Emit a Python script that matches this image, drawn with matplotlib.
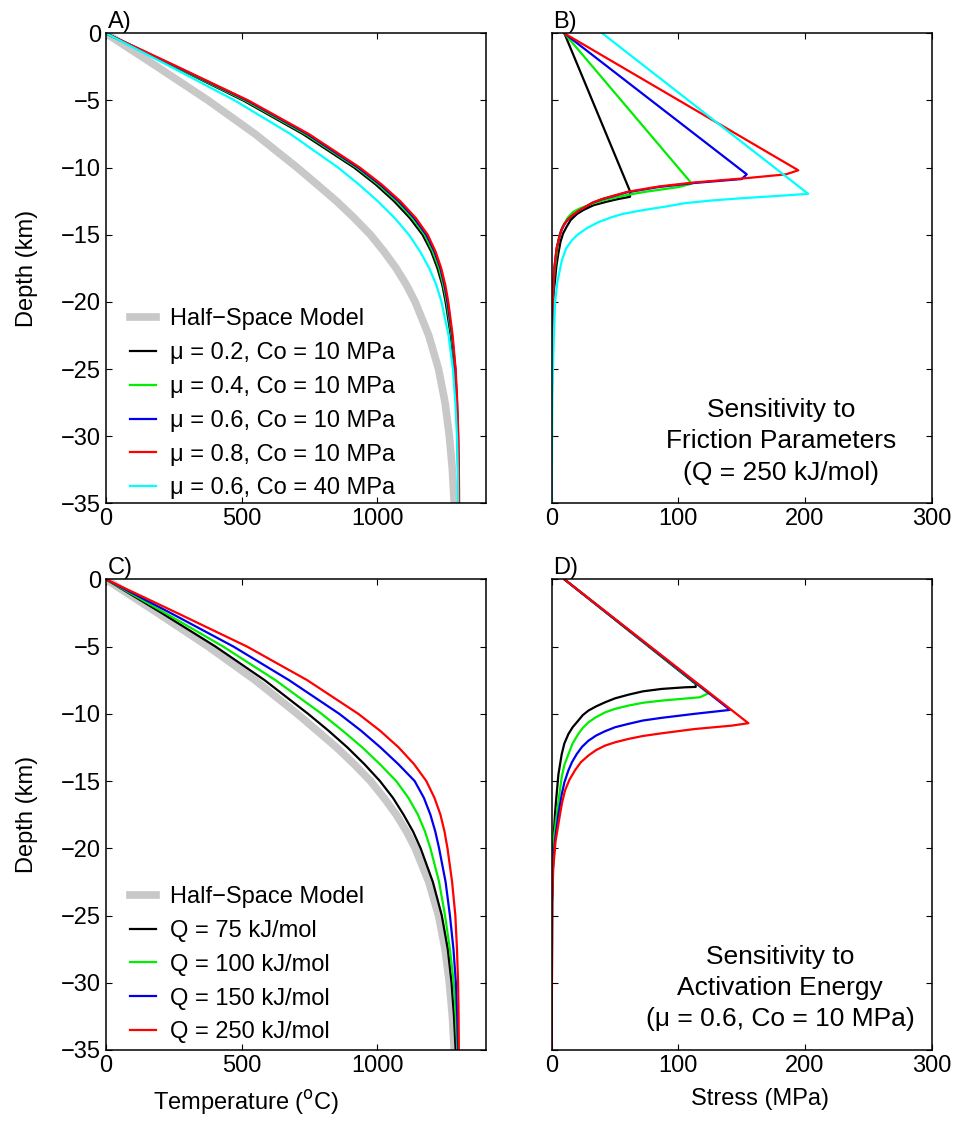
import numpy as np
import matplotlib.pyplot as plt

plt.rcParams['font.family'] = ['Liberation Sans', 'DejaVu Sans']
plt.rcParams['font.size'] = 17

# ---------------- data ----------------
# temperature panels: depth grid (km, positive down) and temperatures (C)
depth_T = [0, 2.5, 5, 7.5, 10, 11.25, 12.5, 13.75, 15, 16.25, 17.5, 18.75, 20, 22.5, 25, 27.5, 30, 32.5, 35]

T_halfspace = [0, 190, 377, 550, 705, 778, 850, 915, 975, 1025, 1070, 1108, 1140, 1190, 1226, 1250, 1266, 1277, 1284]

# panel A: friction sensitivity (Q = 250 kJ/mol)
T_mu02_co10 = [0, 255, 506, 726, 915, 994, 1062, 1120, 1167, 1199, 1222, 1240, 1252, 1271, 1285, 1292, 1296, 1298, 1299]
T_mu04_co10 = [0, 258, 513, 735, 924, 1003, 1072, 1129, 1175, 1205, 1228, 1244, 1256, 1274, 1287, 1293, 1297, 1299, 1300]
T_mu06_co10 = [0, 262, 520, 742, 930, 1010, 1079, 1136, 1181, 1211, 1233, 1248, 1259, 1276, 1288, 1294, 1298, 1300, 1301]
T_mu08_co10 = [0, 265, 525, 748, 936, 1016, 1085, 1142, 1186, 1215, 1236, 1251, 1262, 1278, 1289, 1295, 1299, 1301, 1302]
T_mu06_co40 = [0, 240, 475, 680, 856, 932, 1002, 1064, 1117, 1158, 1192, 1218, 1237, 1263, 1279, 1288, 1294, 1297, 1298]

# panel C: activation energy sensitivity (mu = 0.6, Co = 10 MPa)
T_q75 = [0, 205, 404, 585, 745, 820, 890, 953, 1010, 1058, 1097, 1132, 1160, 1205, 1238, 1260, 1274, 1283, 1289]
T_q100 = [0, 218, 432, 625, 795, 872, 945, 1010, 1070, 1115, 1150, 1176, 1196, 1228, 1250, 1268, 1282, 1290, 1295]
T_q150 = [0, 238, 470, 675, 860, 940, 1012, 1078, 1138, 1172, 1196, 1214, 1228, 1252, 1268, 1281, 1290, 1295, 1298]
T_q250 = [0, 262, 520, 742, 930, 1010, 1079, 1136, 1181, 1211, 1233, 1248, 1259, 1276, 1288, 1294, 1298, 1300, 1301]

# panel B: stress profiles (MPa) and depths (km)
S_b_mu02 = [10, 62, 61.8, 52, 43.4, 33, 25, 20, 15, 11.8, 9, 7, 5.2, 3.6, 2.6, 1.6, 1.0, 0.4, 0.1, 0]
d_b_mu02 = [0, 11.8, 12.17, 12.35, 12.54, 12.8, 13.16, 13.45, 13.9, 14.4, 14.9, 15.5, 16.4, 17.4, 18.4, 19.2, 20, 22, 25, 35]
S_b_mu04 = [10, 108.4, 110.5, 100, 74, 59, 42, 30, 22, 17, 12.5, 9.2, 7, 5.5, 3.9, 2.0, 1.0, 0.5, 0.2, 0]
d_b_mu04 = [0, 10.95, 11.2, 11.45, 11.8, 12.05, 12.4, 12.75, 13.05, 13.3, 13.75, 14.3, 14.8, 15.3, 16.4, 17.9, 19.5, 21.5, 24, 35]
S_b_mu06 = [10, 154, 150, 112, 84, 59, 40, 32, 26.5, 21, 16.5, 12.5, 9.8, 7.8, 6.3, 3.8, 2.0, 1.2, 0.6, 0.2, 0]
d_b_mu06 = [0, 10.5, 10.85, 11.15, 11.45, 11.85, 12.35, 12.62, 12.95, 13.25, 13.55, 13.9, 14.25, 14.6, 15.05, 16.05, 17.6, 19.1, 21, 24, 35]
S_b_mu08 = [10, 194.7, 185, 152, 113, 85, 60, 41, 33, 27, 21.5, 17, 13, 10, 8, 6.5, 3.9, 2.0, 1.2, 0.6, 0.2, 0]
d_b_mu08 = [0, 10.2, 10.5, 10.8, 11.1, 11.4, 11.8, 12.3, 12.58, 12.9, 13.2, 13.5, 13.85, 14.2, 14.6, 15.0, 16.0, 17.5, 19, 21, 24, 35]
S_b_co40 = [40, 202.5, 180, 150, 126, 105, 90, 70, 56, 47, 36, 28, 21, 16, 11.5, 8, 4.5, 2.6, 1.3, 0.5, 0]
d_b_co40 = [0, 11.95, 12.1, 12.28, 12.45, 12.65, 12.9, 13.2, 13.45, 13.7, 14.1, 14.5, 14.95, 15.4, 16.0, 16.9, 18.5, 20.1, 23.8, 27, 35]

# panel D
S_d_q75 = [10, 113.7, 113.7, 105, 86.8, 72, 60.5, 50, 42, 35, 29, 24.5, 21, 16.5, 13.2, 10, 7.9, 5.3, 3.4, 2.6, 1.0, 0.3, 0]
d_d_q75 = [0, 7.78, 8.0, 8.03, 8.15, 8.33, 8.58, 8.85, 9.15, 9.45, 9.76, 10.1, 10.5, 11.0, 11.5, 12.2, 13, 14.5, 16.5, 17.45, 20, 24, 35]
S_d_q100 = [10, 123.7, 117, 86.8, 72, 60.5, 50, 42, 35, 29, 24.5, 21, 16.5, 13.2, 10, 7.9, 4.7, 2.0, 0.8, 0.2, 0]
d_d_q100 = [0, 8.48, 8.77, 9.02, 9.18, 9.39, 9.63, 9.9, 10.25, 10.63, 11.05, 11.5, 12.2, 13.0, 13.8, 14.7, 16.95, 19, 21, 24, 35]
S_d_q150 = [10, 140.8, 113, 86.8, 72, 60.5, 50, 42, 35, 29, 24, 19.7, 16, 13.2, 10, 7.9, 5.3, 2.5, 1.0, 0.3, 0]
d_d_q150 = [0, 9.71, 10.0, 10.3, 10.5, 10.75, 11.0, 11.3, 11.62, 12.0, 12.45, 13.0, 13.6, 14.2, 15.1, 16.0, 17.45, 19.5, 21.5, 24, 35]
S_d_q250 = [10, 155.3, 142, 113, 86.8, 72, 60.5, 50, 42, 35, 29, 23, 18.4, 14, 10.5, 8.2, 6.6, 3.0, 1.2, 0.4, 0]
d_d_q250 = [0, 10.7, 10.88, 11.13, 11.45, 11.65, 11.87, 12.12, 12.37, 12.7, 13.1, 13.6, 14.2, 14.9, 15.7, 16.6, 17.45, 19.5, 21.5, 24, 35]

labels_A = ['μ = 0.2, Co = 10 MPa', 'μ = 0.4, Co = 10 MPa', 'μ = 0.6, Co = 10 MPa',
            'μ = 0.8, Co = 10 MPa', 'μ = 0.6, Co = 40 MPa']
labels_C = ['Q = 75 kJ/mol', 'Q = 100 kJ/mol', 'Q = 150 kJ/mol', 'Q = 250 kJ/mol']
colors_A = ['k', '#00ee00', '#0000ee', 'r', 'cyan']
colors_C = ['k', '#00ee00', '#0000ee', 'r']
gray = '#c8c8c8'

# ---------------- figure ----------------
fig = plt.figure(figsize=(9.59, 11.26), dpi=100)
axA = fig.add_axes([0.1105, 0.553, 0.396, 0.4174])
axB = fig.add_axes([0.5753, 0.553, 0.3962, 0.4174])
axC = fig.add_axes([0.1105, 0.0675, 0.396, 0.418])
axD = fig.add_axes([0.5753, 0.0675, 0.3962, 0.418])

dT = -np.array(depth_T)

# A
axA.plot(T_halfspace, dT, color=gray, lw=5.5, label='Half\u2212Space Model')
for T, c, lab in zip([T_mu02_co10, T_mu04_co10, T_mu06_co10, T_mu08_co10, T_mu06_co40], colors_A, labels_A):
    axA.plot(T, dT, color=c, lw=1.6, label=lab)

# C
axC.plot(T_halfspace, dT, color=gray, lw=5.5, label='Half\u2212Space Model')
for T, c, lab in zip([T_q75, T_q100, T_q150, T_q250], colors_C, labels_C):
    axC.plot(T, dT, color=c, lw=1.6, label=lab)

# B
for S, d, c in zip([S_b_mu02, S_b_mu04, S_b_mu06, S_b_mu08, S_b_co40],
                   [d_b_mu02, d_b_mu04, d_b_mu06, d_b_mu08, d_b_co40], colors_A):
    axB.plot(S, -np.array(d), color=c, lw=1.6)

# D
for S, d, c in zip([S_d_q75, S_d_q100, S_d_q150, S_d_q250],
                   [d_d_q75, d_d_q100, d_d_q150, d_d_q250], colors_C):
    axD.plot(S, -np.array(d), color=c, lw=1.6)

for ax in [axA, axB, axC, axD]:
    ax.set_ylim(-35, 0)
    ax.set_yticks(np.arange(-35, 1, 5))
    ax.tick_params(direction='in', top=True, right=True, length=4, width=0.8, labelsize=17)
    for sp in ax.spines.values():
        sp.set_linewidth(1.1)

for ax in [axA, axC]:
    ax.set_xlim(0, 1400)
    ax.set_xticks([0, 500, 1000])
    ax.set_ylabel('Depth (km)', fontsize=17)
    ax.yaxis.set_label_coords(-0.18, 0.5)
for ax in [axB, axD]:
    ax.set_xlim(0, 300)
    ax.set_xticks([0, 100, 200, 300])
    ax.set_yticklabels([])

axC.set_xlabel('Temperature ($^{\\mathrm{o}}$C)', fontsize=17)
axC.xaxis.set_label_coords(0.37, -0.08)
axD.set_xlabel('Stress (MPa)', fontsize=17)
axD.xaxis.set_label_coords(0.548, -0.08)

for ax, lab in zip([axA, axB, axC, axD], ['A)', 'B)', 'C)', 'D)']):
    ax.text(0.005, 1.0, lab, transform=ax.transAxes, ha='left', va='bottom', fontsize=17)

for ax, yb in zip([axA, axC], [-0.022, -0.016]):
    ax.legend(loc='lower left', bbox_to_anchor=(0.025, yb), frameon=False, fontsize=17,
              handlelength=1.1, handletextpad=0.6, labelspacing=0.5, borderaxespad=0.2)

axB.text(0.603, 0.04, 'Sensitivity to\nFriction Parameters\n(Q = 250 kJ/mol)',
         transform=axB.transAxes, ha='center', va='bottom', multialignment='center',
         fontsize=19, linespacing=1.38)
axD.text(0.601, 0.04, 'Sensitivity to\nActivation Energy\n(μ = 0.6, Co = 10 MPa)',
         transform=axD.transAxes, ha='center', va='bottom', multialignment='center',
         fontsize=19, linespacing=1.38)

fig.savefig('out.png', dpi=100)
